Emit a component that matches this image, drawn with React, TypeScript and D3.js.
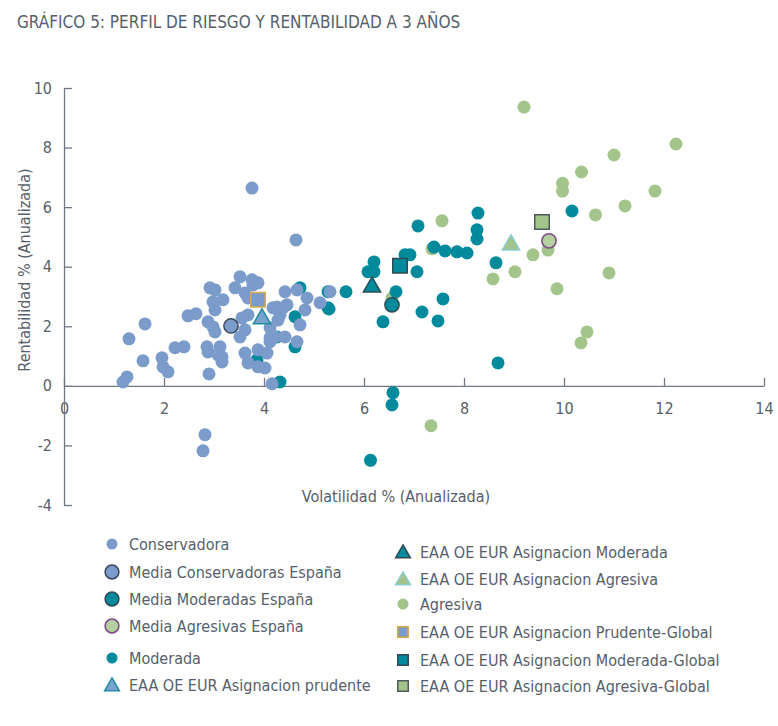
import React, { useRef, useEffect } from 'react';
import * as d3 from 'd3';

type Pt = [number, number];

// Volatilidad (x) / Rentabilidad (y)
const conservadora: Pt[] = [
  [1.18, 0.13], [1.26, 0.3], [1.3, 1.58], [1.62, 2.08], [1.58, 0.84], [1.96, 0.94], [1.98, 0.64],
  [2.08, 0.47], [2.22, 1.28], [2.4, 1.31], [2.48, 2.35], [2.64, 2.42], [2.9, 0.4], [2.86, 1.31],
  [2.88, 1.14], [3.08, 1.04], [3.16, 0.8], [2.88, 2.15], [2.98, 1.98], [3.02, 1.81], [2.92, 3.29],
  [3.02, 3.22], [2.98, 2.82], [3.18, 2.89], [3.02, 2.55], [3.42, 3.29], [3.52, 3.66], [3.76, 3.56],
  [3.78, 3.39], [3.62, 3.12], [3.68, 2.95], [3.56, 2.28], [3.68, 2.38], [3.62, 1.88], [3.52, 1.64],
  [3.62, 1.1], [3.68, 0.77], [3.88, 1.21], [4.06, 1.1], [4.12, 1.48], [4.22, 1.64], [3.88, 0.64],
  [4.18, 2.62], [4.32, 2.38], [4.38, 2.62], [3.88, 3.46], [4.42, 3.16], [4.66, 3.22], [4.86, 2.95],
  [5.12, 2.79], [5.32, 3.16], [4.26, 2.65], [4.46, 2.72], [4.82, 2.55], [4.28, 2.21], [4.72, 2.05],
  [4.12, 1.95], [4.12, 1.61], [4.42, 1.64], [4.66, 1.48], [4.02, 0.6], [4.16, 0.07], [3.12, 1.31],
  [3.16, 0.97], [3.76, 6.64], [4.64, 4.9], [2.82, -1.64], [2.78, -2.18],
];

const moderada: Pt[] = [
  [8.28, 5.8], [8.26, 5.24], [8.26, 4.93], [7.08, 5.37], [7.4, 4.66], [7.62, 4.53], [7.86, 4.5],
  [8.06, 4.46], [6.82, 4.4], [6.92, 4.4], [8.64, 4.13], [6.2, 4.16], [6.08, 3.83], [6.2, 3.83],
  [7.06, 3.83], [6.64, 3.16], [5.64, 3.16], [5.28, 3.16], [5.3, 2.58], [6.38, 2.15], [7.16, 2.48],
  [7.48, 2.18], [7.58, 2.92], [8.68, 0.77], [6.58, -0.23], [6.56, -0.64], [6.13, -2.5], [10.16, 5.87],
  [4.72, 3.29], [5.28, 2.62], [4.62, 2.32], [4.62, 1.31], [4.26, 1.64], [3.86, 0.87], [4.32, 0.13],
];

const agresiva: Pt[] = [
  [9.2, 9.36], [12.24, 8.12], [11.0, 7.75], [10.35, 7.18], [9.97, 6.8], [9.97, 6.54], [11.82, 6.54],
  [11.22, 6.04], [10.63, 5.74], [9.68, 4.56], [9.38, 4.4], [9.02, 3.83], [10.9, 3.79], [9.86, 3.26],
  [10.46, 1.81], [10.34, 1.44], [7.56, 5.54], [7.36, 4.6], [8.58, 3.59], [7.34, -1.34], [6.56, 2.95],
];

const mediaConservadoras: Pt = [3.34, 2.01];
const mediaModeradas: Pt = [6.56, 2.72];
const mediaAgresivas: Pt = [9.7, 4.87];
const eaaPrudente: Pt = [3.96, 2.32];
const eaaModerada: Pt = [6.16, 3.39];
const eaaAgresiva: Pt = [8.94, 4.8];
const prudenteGlobal: Pt = [3.88, 2.89];
const moderadaGlobal: Pt = [6.72, 4.03];
const agresivaGlobal: Pt = [9.56, 5.5];

const xTicks = [0, 2, 4, 6, 8, 10, 12, 14];
const yTicks = [-4, -2, 0, 2, 4, 6, 8, 10];

const BLUE = '#7b9bcb';
const TEAL = '#008a9c';
const GREEN = '#a3c58c';
const TEXT = '#56606b';
const AXIS = '#6f7882';
const FONT = "'Liberation Sans Narrow', 'DejaVu Sans Condensed', 'Roboto', sans-serif";

type Special = {
  label: string;
  shape: 'circle' | 'triangle' | 'square';
  fill: string;
  stroke: string;
  pt: Pt;
};

const specials: Special[] = [
  { label: 'Media Conservadoras España', shape: 'circle', fill: BLUE, stroke: '#38485a', pt: mediaConservadoras },
  { label: 'Media Moderadas España', shape: 'circle', fill: TEAL, stroke: '#2f4b55', pt: mediaModeradas },
  { label: 'Media Agresivas España', shape: 'circle', fill: '#b5d0a0', stroke: '#7a4a86', pt: mediaAgresivas },
  { label: 'EAA OE EUR Asignacion prudente', shape: 'triangle', fill: '#79a3cc', stroke: '#1f8ca0', pt: eaaPrudente },
  { label: 'EAA OE EUR Asignacion Moderada', shape: 'triangle', fill: TEAL, stroke: '#2f4b55', pt: eaaModerada },
  { label: 'EAA OE EUR Asignacion Agresiva', shape: 'triangle', fill: GREEN, stroke: '#8ccbcf', pt: eaaAgresiva },
  { label: 'EAA OE EUR Asignacion Prudente-Global', shape: 'square', fill: BLUE, stroke: '#d6ab4c', pt: prudenteGlobal },
  { label: 'EAA OE EUR Asignacion Moderada-Global', shape: 'square', fill: TEAL, stroke: '#2f4b55', pt: moderadaGlobal },
  { label: 'EAA OE EUR Asignacion Agresiva-Global', shape: 'square', fill: GREEN, stroke: '#4e5a5c', pt: agresivaGlobal },
];

// legend rows, two columns
const legendLeft = ['Conservadora', 'Media Conservadoras España', 'Media Moderadas España', 'Media Agresivas España', 'Moderada', 'EAA OE EUR Asignacion prudente'];
const legendLeftY = [544, 572, 599, 626, 658, 685];
const legendRight = ['EAA OE EUR Asignacion Moderada', 'EAA OE EUR Asignacion Agresiva', 'Agresiva', 'EAA OE EUR Asignacion Prudente-Global', 'EAA OE EUR Asignacion Moderada-Global', 'EAA OE EUR Asignacion Agresiva-Global'];
const legendRightY = [552, 579, 604, 632, 660, 686];

function shapePath(shape: string, area: number) {
  const t = shape === 'triangle' ? d3.symbolTriangle : shape === 'square' ? d3.symbolSquare : d3.symbolCircle;
  return d3.symbol().type(t).size(area)() || '';
}

const App: React.FC = () => {
  const ref = useRef<SVGSVGElement>(null);

  useEffect(() => {
    if (!ref.current) return;
    const svg = d3.select(ref.current);
    svg.selectAll('*').remove();

    const x = d3.scaleLinear().domain([0, 14]).range([64, 764]);
    const y = d3.scaleLinear().domain([-4, 10]).range([505, 88]);

    // Title
    svg.append('text')
      .attr('x', 17).attr('y', 28)
      .attr('fill', TEXT).attr('font-size', 17)
      .text('GRÁFICO 5: PERFIL DE RIESGO Y RENTABILIDAD A 3 AÑOS');

    // Axes (ticks pointing into the plot, plain hyphen for negatives)
    const xAxis = svg.append('g')
      .attr('transform', `translate(0,${y(0)})`)
      .call(d3.axisBottom(x).tickValues(xTicks).tickFormat(d => String(d)).tickSizeInner(-8).tickSizeOuter(0).tickPadding(17));
    const yAxis = svg.append('g')
      .attr('transform', `translate(${x(0)},0)`)
      .call(d3.axisLeft(y).tickValues(yTicks).tickFormat(d => String(d)).tickSizeInner(-8).tickSizeOuter(0).tickPadding(12));
    [xAxis, yAxis].forEach(g => {
      g.selectAll('path,line').attr('stroke', AXIS).attr('stroke-width', 1.3);
      g.selectAll('text').attr('fill', TEXT).attr('font-size', 16).attr('font-family', FONT);
    });

    svg.append('text')
      .attr('x', 396).attr('y', 502)
      .attr('text-anchor', 'middle')
      .attr('fill', TEXT).attr('font-size', 16)
      .text('Volatilidad % (Anualizada)');
    svg.append('text')
      .attr('transform', `translate(30,270) rotate(-90)`)
      .attr('text-anchor', 'middle')
      .attr('fill', TEXT).attr('font-size', 16)
      .text('Rentabilidad % (Anualizada)');

    // Point clouds
    const clouds: [Pt[], string][] = [[agresiva, GREEN], [moderada, TEAL], [conservadora, BLUE]];
    clouds.forEach(([pts, color]) => {
      svg.append('g').selectAll('circle')
        .data(pts)
        .enter()
        .append('circle')
        .attr('cx', d => x(d[0]))
        .attr('cy', d => y(d[1]))
        .attr('r', 6.5)
        .attr('fill', color);
    });

    // Special markers
    const sizes: Record<string, number> = { circle: 160, triangle: 130, square: 210 };
    svg.append('g').selectAll('path')
      .data(specials)
      .enter()
      .append('path')
      .attr('d', d => shapePath(d.shape, sizes[d.shape]))
      .attr('transform', d => `translate(${x(d.pt[0])},${y(d.pt[1]) + (d.shape === 'triangle' ? 2 : 0)})`)
      .attr('fill', d => d.fill)
      .attr('stroke', d => d.stroke)
      .attr('stroke-width', 1.5);

    // Legend
    const legendItem = (label: string, mx: number, my: number) => {
      const sp = specials.find(s => s.label === label);
      const g = svg.append('g');
      if (sp) {
        const lsize: Record<string, number> = { circle: 150, triangle: 95, square: 110 };
        g.append('path')
          .attr('d', shapePath(sp.shape, lsize[sp.shape]))
          .attr('transform', `translate(${mx},${my + (sp.shape === 'triangle' ? 1.5 : 0)})`)
          .attr('fill', sp.fill)
          .attr('stroke', sp.stroke)
          .attr('stroke-width', 1.5);
      } else {
        const c = label === 'Conservadora' ? BLUE : label === 'Moderada' ? TEAL : GREEN;
        g.append('circle').attr('cx', mx).attr('cy', my).attr('r', 5.5).attr('fill', c);
      }
      g.append('text')
        .attr('x', mx + 17).attr('y', my)
        .attr('dy', '0.36em')
        .attr('fill', TEXT).attr('font-size', 16)
        .text(label);
    };
    legendLeft.forEach((l, i) => legendItem(l, 112, legendLeftY[i]));
    legendRight.forEach((l, i) => legendItem(l, 403, legendRightY[i]));
  }, []);

  return (
    <svg
      ref={ref}
      width={778}
      height={726}
      style={{ position: 'absolute', left: 0, top: 0, background: '#fff', fontFamily: FONT }}
    />
  );
};

export default App;
